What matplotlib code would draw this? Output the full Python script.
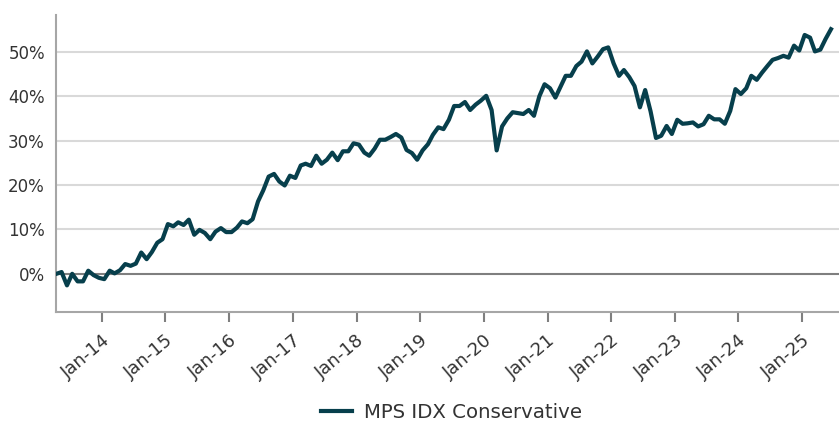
import pandas as pd
import matplotlib
matplotlib.use("Agg")
import matplotlib.pyplot as plt
from matplotlib.ticker import FuncFormatter

plt.rcParams['font.family'] = ['DejaVu Sans']

# monthly cumulative return (%) from Apr-2013 to Jun-2025
series_name = "MPS IDX Conservative"
start_month = "2013-04-01"
returns = [
    0.0, 0.4, -2.6, 0.0, -1.7, -1.7, 0.7, -0.3, -0.9, -1.2,
    0.7, 0.1, 0.8, 2.2, 1.8, 2.3, 4.8, 3.3, 4.9, 7.0,
    7.8, 11.2, 10.7, 11.6, 11.0, 12.2, 8.8, 9.9, 9.2, 7.8,
    9.5, 10.3, 9.4, 9.4, 10.4, 11.8, 11.4, 12.3, 16.3, 18.8,
    21.9, 22.5, 20.8, 19.9, 22.1, 21.6, 24.4, 24.8, 24.3, 26.6,
    24.8, 25.7, 27.3, 25.6, 27.6, 27.6, 29.4, 29.1, 27.3, 26.6,
    28.2, 30.2, 30.2, 30.8, 31.5, 30.7, 27.9, 27.2, 25.7, 27.8,
    29.2, 31.3, 33.0, 32.6, 34.7, 37.8, 37.8, 38.7, 36.9, 38.1,
    39.0, 40.1, 36.9, 27.8, 33.2, 35.0, 36.4, 36.2, 36.0, 36.9,
    35.6, 40.0, 42.7, 41.8, 39.7, 42.0, 44.6, 44.6, 46.8, 47.8,
    50.1, 47.4, 48.9, 50.6, 51.0, 47.4, 44.6, 45.9, 44.3, 42.3,
    37.5, 41.4, 36.6, 30.6, 31.1, 33.3, 31.5, 34.7, 33.8, 33.9,
    34.1, 33.2, 33.7, 35.6, 34.8, 34.8, 33.8, 36.7, 41.6, 40.5,
    41.8, 44.6, 43.7, 45.3, 46.8, 48.2, 48.6, 49.1, 48.7, 51.4,
    50.3, 53.8, 53.2, 50.1, 50.5, 52.9, 55.1,
]
y_ticks = [0, 10, 20, 30, 40, 50]
tick_years = list(range(2014, 2026))

dates = pd.date_range(start_month, periods=len(returns), freq="MS") + pd.Timedelta(days=14)

line_color = "#073f4c"
grid_color = "#d9d9d9"
axis_color = "#a6a6a6"
text_color = "#333333"

fig = plt.figure(figsize=(8.39, 4.23), dpi=100)
ax = fig.add_axes([56 / 839, (423 - 312) / 423, 1 - 56 / 839, (312 - 15) / 423])

for v in y_ticks[1:]:
    ax.axhline(v, color=grid_color, lw=1.5, zorder=1)
ax.axhline(0, color="#7f7f7f", lw=1.5, zorder=2)

ax.plot(dates, returns, color=line_color, lw=3.0, label=series_name, zorder=3)

ax.set_ylim(-8.6, 58.3)
ax.set_xlim(pd.Timestamp("2013-04-13"), pd.Timestamp("2025-07-31"))
ax.set_yticks(y_ticks)
ax.yaxis.set_major_formatter(FuncFormatter(lambda v, p: f"{v:.0f}%"))
ax.set_xticks([pd.Timestamp(f"{y}-01-01") for y in tick_years])
ax.set_xticklabels([f"Jan-{y % 100:02d}" for y in tick_years], rotation=40,
                   ha="right", rotation_mode="anchor")

for s in ["top", "right"]:
    ax.spines[s].set_visible(False)
for s in ["left", "bottom"]:
    ax.spines[s].set_color(axis_color)
    ax.spines[s].set_linewidth(1.5)

ax.tick_params(axis="y", length=0, pad=8, labelsize=12, labelcolor=text_color)
ax.tick_params(axis="x", length=7, width=1.5, color="#7f7f7f", pad=7,
               labelsize=13, labelcolor=text_color)

fig.legend(loc="lower center", bbox_to_anchor=(0.538, -0.04), frameon=False,
           fontsize=14.2, handlelength=1.6, handletextpad=0.6, labelcolor=text_color)

fig.savefig("out.png", dpi=100)
